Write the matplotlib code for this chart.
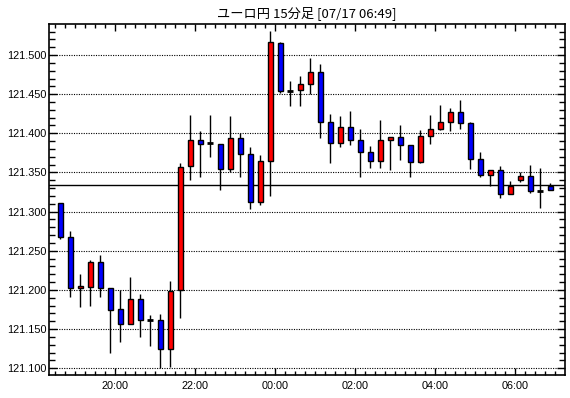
import matplotlib.pyplot as plt
import numpy as np
from matplotlib.ticker import MultipleLocator, FixedLocator

# === DATA (15-minute candles, EUR/JPY) ===
opens = [121.311, 121.268, 121.202, 121.204, 121.236, 121.203, 121.176, 121.157, 121.189, 121.162,
         121.161, 121.125, 121.200, 121.358, 121.391, 121.388, 121.387, 121.355, 121.394, 121.373,
         121.312, 121.365, 121.515, 121.454, 121.455, 121.463, 121.478, 121.415, 121.388, 121.408,
         121.392, 121.376, 121.365, 121.391, 121.395, 121.385, 121.364, 121.397, 121.406, 121.415,
         121.427, 121.413, 121.367, 121.347, 121.353, 121.322, 121.341, 121.346, 121.326, 121.333]
highs = [121.311, 121.275, 121.221, 121.238, 121.244, 121.203, 121.200, 121.216, 121.195, 121.168,
         121.169, 121.211, 121.362, 121.423, 121.403, 121.424, 121.387, 121.422, 121.400, 121.382,
         121.372, 121.531, 121.517, 121.467, 121.473, 121.496, 121.489, 121.425, 121.422, 121.429,
         121.405, 121.384, 121.417, 121.395, 121.410, 121.385, 121.404, 121.424, 121.436, 121.432,
         121.442, 121.414, 121.376, 121.353, 121.358, 121.339, 121.350, 121.359, 121.356, 121.336]
lows = [121.265, 121.191, 121.178, 121.180, 121.191, 121.120, 121.134, 121.157, 121.140, 121.129,
        121.100, 121.102, 121.164, 121.340, 121.344, 121.370, 121.328, 121.350, 121.344, 121.303,
        121.309, 121.320, 121.452, 121.435, 121.435, 121.450, 121.394, 121.362, 121.382, 121.385,
        121.344, 121.356, 121.356, 121.353, 121.366, 121.344, 121.362, 121.386, 121.404, 121.403,
        121.406, 121.355, 121.344, 121.333, 121.317, 121.322, 121.338, 121.324, 121.305, 121.328]
closes = [121.268, 121.202, 121.205, 121.236, 121.203, 121.175, 121.157, 121.189, 121.162, 121.162,
          121.125, 121.199, 121.357, 121.391, 121.387, 121.388, 121.355, 121.394, 121.373, 121.312,
          121.365, 121.517, 121.454, 121.454, 121.463, 121.478, 121.415, 121.388, 121.408, 121.392,
          121.376, 121.365, 121.391, 121.395, 121.385, 121.364, 121.397, 121.406, 121.415, 121.427,
          121.413, 121.367, 121.347, 121.353, 121.322, 121.333, 121.346, 121.326, 121.326, 121.328]
current_price = 121.3335

hour_pos = [5.5, 13.5, 21.5, 29.5, 37.5, 45.5]
hour_labels = ['20:00', '22:00', '00:00', '02:00', '04:00', '06:00']
title = 'ユーロ円 15分足 [07/17 06:49]'

# === PLOT ===
plt.rcParams['font.family'] = ['Liberation Sans', 'DejaVu Sans']
fig = plt.figure(figsize=(5.7, 3.98), dpi=100)
ax = fig.add_axes([0.086, 0.0578, 0.9052, 0.8819])

o = np.array(opens)
c = np.array(closes)
x = np.arange(len(o))

ax.vlines(x, lows, highs, color='black', lw=1, zorder=3)

up = c > o
down = c < o
doji = c == o
ax.bar(x[up], (c - o)[up], bottom=o[up], width=0.55, color='#ff0000',
       edgecolor='black', lw=1, zorder=4)
ax.bar(x[down], (o - c)[down], bottom=c[down], width=0.55, color='#0000ff',
       edgecolor='black', lw=1, zorder=4)
ax.hlines(o[doji], x[doji] - 0.3, x[doji] + 0.3, color='black', lw=2, zorder=4)

ax.axhline(current_price, color='black', lw=1, zorder=2)

ax.set_xlim(-1.13, 50.47)
ax.set_ylim(121.0914, 121.5396)

# y axis
ax.yaxis.set_major_locator(MultipleLocator(0.05))
ax.yaxis.set_minor_locator(MultipleLocator(0.01))
ax.yaxis.set_major_formatter(lambda v, p: f'{v:.3f}')
ax.grid(axis='y', which='major', color='black', lw=0.8, linestyle=(0, (1, 1.2)))

# x axis
ax.xaxis.set_major_locator(FixedLocator(hour_pos))
ax.set_xticklabels(hour_labels)
ax.xaxis.set_minor_locator(FixedLocator(np.arange(-0.5, 50.5, 1)))

ax.tick_params(axis='both', which='both', direction='in', top=True, right=True,
               labelsize=7.8, color='black', width=1)
ax.tick_params(axis='x', which='major', length=5, pad=4)
ax.tick_params(axis='x', which='minor', length=3)
ax.tick_params(axis='y', which='major', length=6, pad=2)
ax.tick_params(axis='y', which='minor', length=4)

for s in ax.spines.values():
    s.set_linewidth(1.2)

fig.text(0.5386, 0.968, title, ha='center', va='center', fontsize=9.5,
         family=['Noto Sans CJK JP', 'DejaVu Sans'])

fig.savefig('out.png', dpi=100)
